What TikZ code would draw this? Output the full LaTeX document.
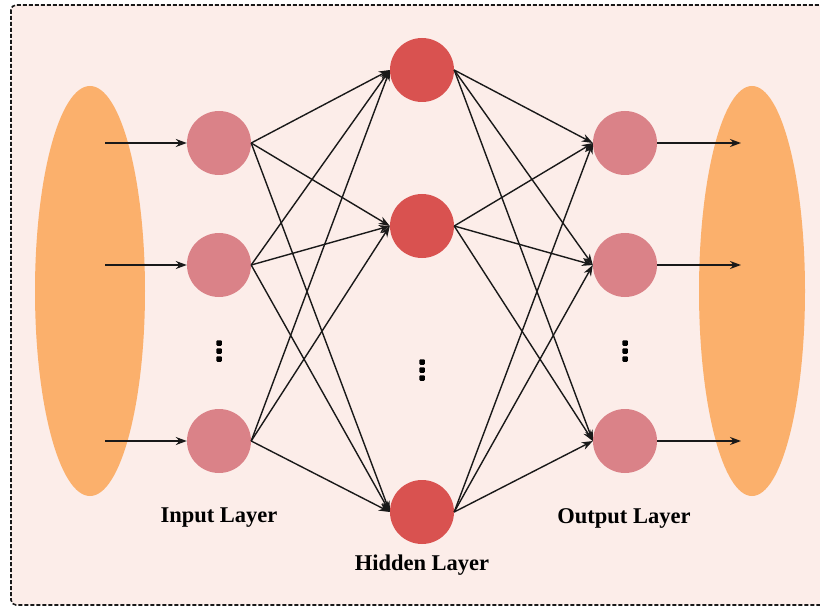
\documentclass[tikz,border=0pt]{standalone}
\usepackage{fontspec}
\setmainfont{Liberation Serif}
\usetikzlibrary{arrows.meta,shapes.geometric}
\definecolor{bgpink}{RGB}{252,237,233}
\definecolor{blob}{RGB}{251,176,108}
\definecolor{ionode}{RGB}{218,130,136}
\definecolor{hidnode}{RGB}{217,82,80}
\definecolor{wire}{RGB}{25,25,25}
\tikzset{
  x=1pt, y=-1pt,
  iocirc/.style={circle, fill=ionode, minimum size=64pt, inner sep=0pt},
  hidcirc/.style={circle, fill=hidnode, minimum size=64pt, inner sep=0pt},
  blobshape/.style={ellipse, fill=blob, inner sep=0pt},
  link/.style={draw=wire, line width=1.4pt, -{Stealth[length=11pt,width=8pt]}},
  layerlabel/.style={font=\fontsize{22.5}{24}\selectfont\bfseries, text=black},
  vdots/.style={fill=black, rectangle, rounded corners=1pt, minimum size=5.5pt, inner sep=0pt},
}
\begin{document}
\begin{tikzpicture}
  \useasboundingbox (0,0) rectangle (820,607);
  % frame
  \fill[bgpink, rounded corners=5pt] (11,5) rectangle (835,605);
  \draw[black!90, line width=1.6pt, dashed, dash pattern=on 4pt off 2pt, rounded corners=5pt] (11,5) rectangle (835,605);

  % data blobs
  \node[blobshape, minimum width=110pt, minimum height=410pt] (src) at (90,291) {};
  \node[blobshape, minimum width=106pt, minimum height=410pt] (dst) at (752,291) {};

  % input layer
  \node[iocirc] (i1) at (219,143) {};
  \node[iocirc] (i2) at (219,265) {};
  \node[iocirc] (i3) at (219,441) {};
  % hidden layer
  \node[hidcirc] (h1) at (422,70) {};
  \node[hidcirc] (h2) at (422,226) {};
  \node[hidcirc] (h3) at (422,512) {};
  % output layer
  \node[iocirc] (o1) at (625,143) {};
  \node[iocirc] (o2) at (625,265) {};
  \node[iocirc] (o3) at (625,441) {};

  % ellipsis dots
  \foreach \n/\x/\y in {a/219/343, b/422/362, c/625/343}{
    \node[vdots] (\n1) at (\x,\y) {};
    \node[vdots] (\n2) at (\x,\y+8) {};
    \node[vdots] (\n3) at (\x,\y+16) {};
  }

  % inputs and outputs
  \foreach \k/\y in {1/143, 2/265, 3/441}{
    \coordinate (in\k) at (105,\y);
    \coordinate (out\k) at (741,\y);
    \draw[link] (in\k) -- (i\k.west);
    \draw[link] (o\k.east) -- (out\k);
  }

  % fully connected layers
  \foreach \a in {1,2,3}{
    \foreach \b in {1,2,3}{
      \draw[link] (i\a.east) -- (h\b.west);
      \draw[link] (h\a.east) -- (o\b.west);
    }
  }

  % labels
  \node[layerlabel] (lin) at (219,518) {Input Layer};
  \node[layerlabel] (lhid) at (422,565) {Hidden Layer};
  \node[layerlabel] (lout) at (624,518) {Output Layer};
\end{tikzpicture}
\end{document}
